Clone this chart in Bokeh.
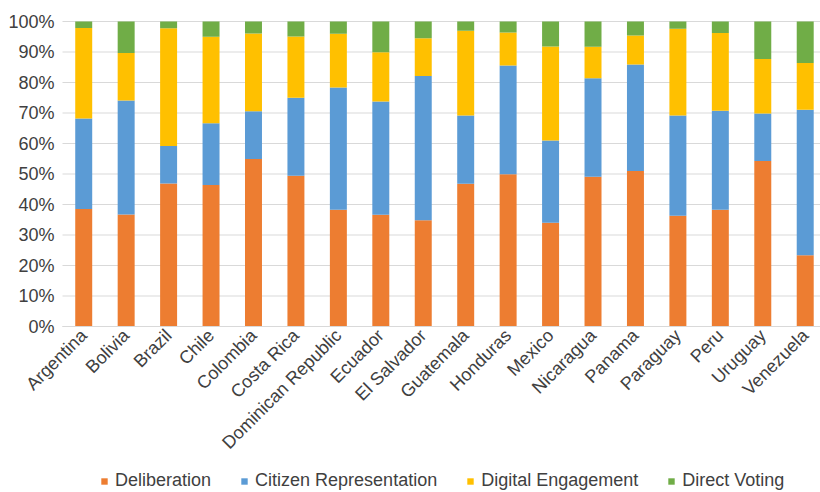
from bokeh.plotting import figure
from bokeh.models import (ColumnDataSource, Range1d, FixedTicker, PrintfTickFormatter,
                          Legend, LegendItem)
from bokeh.embed import file_html
from bokeh.resources import INLINE
import math

countries = ["Argentina", "Bolivia", "Brazil", "Chile", "Colombia", "Costa Rica",
             "Dominican Republic", "Ecuador", "El Salvador", "Guatemala", "Honduras",
             "Mexico", "Nicaragua", "Panama", "Paraguay", "Peru", "Uruguay", "Venezuela"]

deliberation = [38.5, 36.7, 46.9, 46.4, 54.9, 49.4, 38.3, 36.6, 34.8, 46.8, 49.9,
                34.0, 49.1, 51.0, 36.3, 38.3, 54.3, 23.4]
citizen_representation = [29.7, 37.4, 12.3, 20.2, 15.7, 25.6, 40.1, 37.2, 47.3, 22.4, 35.7,
                          27.0, 32.3, 34.9, 32.9, 32.4, 15.5, 47.7]
digital_engagement = [29.7, 15.6, 38.6, 28.4, 25.5, 20.1, 17.6, 16.1, 12.4, 27.8, 10.8,
                      30.8, 10.3, 9.5, 28.4, 25.5, 17.9, 15.3]
direct_voting = [2.1, 10.3, 2.2, 5.0, 3.9, 4.9, 4.0, 10.1, 5.5, 3.0, 3.6,
                 8.2, 8.3, 4.6, 2.4, 3.8, 12.3, 13.6]

series = ["Deliberation", "Citizen Representation", "Digital Engagement", "Direct Voting"]
colors = ["#ED7D31", "#5B9BD5", "#FFC000", "#70AD47"]
y_ticks = list(range(0, 101, 10))

FONT = "Liberation Sans"
TEXT_COLOR = "#404040"
GRID_COLOR = "#D9D9D9"

W, H = 820, 492
AXIS_GUTTER = 62          # px left of the bars for the percent labels
PLOT_W, PLOT_H, TOP = 758, 305, 21

positions = list(range(len(countries)))
x_lo, x_hi = -0.5, len(countries) - 0.64
px_per_x = PLOT_W / (x_hi - x_lo)
px_per_y = PLOT_H / 100.0

source = ColumnDataSource(data={
    "x": positions,
    series[0]: deliberation,
    series[1]: citizen_representation,
    series[2]: digital_engagement,
    series[3]: direct_voting,
})

# The frame fills the whole canvas; the extra room left of x_lo, above 100
# and below 0 holds the axis labels and the legend.
p = figure(width=W, height=H, output_backend="svg", toolbar_location=None,
           x_range=Range1d(x_lo - AXIS_GUTTER / px_per_x, x_hi),
           y_range=Range1d(-(H - TOP - PLOT_H) / px_per_y, 100 + TOP / px_per_y),
           min_border_left=0, min_border_top=0, min_border_right=0, min_border_bottom=0)
p.outline_line_color = None
p.background_fill_color = "white"
p.border_fill_color = "white"

# horizontal gridlines restricted to the bar area
p.segment(x0=[x_lo] * len(y_ticks), x1=[x_hi] * len(y_ticks), y0=y_ticks, y1=y_ticks,
          line_color=GRID_COLOR, line_width=1)

renderers = p.vbar_stack(series, x="x", width=0.40, color=colors, line_color=None,
                         source=source)

# y axis pinned at the left edge of the bar area
p.yaxis.fixed_location = x_lo
p.yaxis.bounds = (0, 100)
p.yaxis.ticker = FixedTicker(ticks=y_ticks)
p.yaxis.formatter = PrintfTickFormatter(format="%d%%")
p.yaxis.axis_line_color = None
p.yaxis.major_tick_line_color = None
p.yaxis.minor_tick_line_color = None
p.yaxis.major_tick_out = 0
p.yaxis.major_tick_in = 0
p.yaxis.major_label_text_font = FONT
p.yaxis.major_label_text_font_size = "18px"
p.yaxis.major_label_text_color = TEXT_COLOR
p.yaxis.major_label_standoff = 8

# x axis pinned at 0 with country names rotated 45 degrees
p.xaxis.fixed_location = 0
p.xaxis.bounds = (x_lo, x_hi)
p.xaxis.ticker = FixedTicker(ticks=positions)
p.xaxis.major_label_overrides = {i: c for i, c in zip(positions, countries)}
p.xaxis.major_label_orientation = math.pi / 4
p.xaxis.axis_line_color = GRID_COLOR
p.xaxis.axis_line_width = 1
p.xaxis.major_tick_line_color = None
p.xaxis.minor_tick_line_color = None
p.xaxis.major_tick_out = 0
p.xaxis.major_tick_in = 0
p.xaxis.major_label_text_font = FONT
p.xaxis.major_label_text_font_size = "18px"
p.xaxis.major_label_text_color = TEXT_COLOR
p.xaxis.major_label_standoff = 6

p.xgrid.grid_line_color = None
p.ygrid.grid_line_color = None

legend = Legend(items=[LegendItem(label=s, renderers=[r]) for s, r in zip(series, renderers)],
                orientation="horizontal", location=(100, 1),
                glyph_width=8, glyph_height=8, label_standoff=7, spacing=29,
                padding=0, margin=0, border_line_color=None,
                background_fill_alpha=0,
                label_text_font=FONT, label_text_font_size="18px",
                label_text_color=TEXT_COLOR, label_height=20)
p.add_layout(legend, "center")

open("out.html", "w").write(file_html(p, INLINE))
